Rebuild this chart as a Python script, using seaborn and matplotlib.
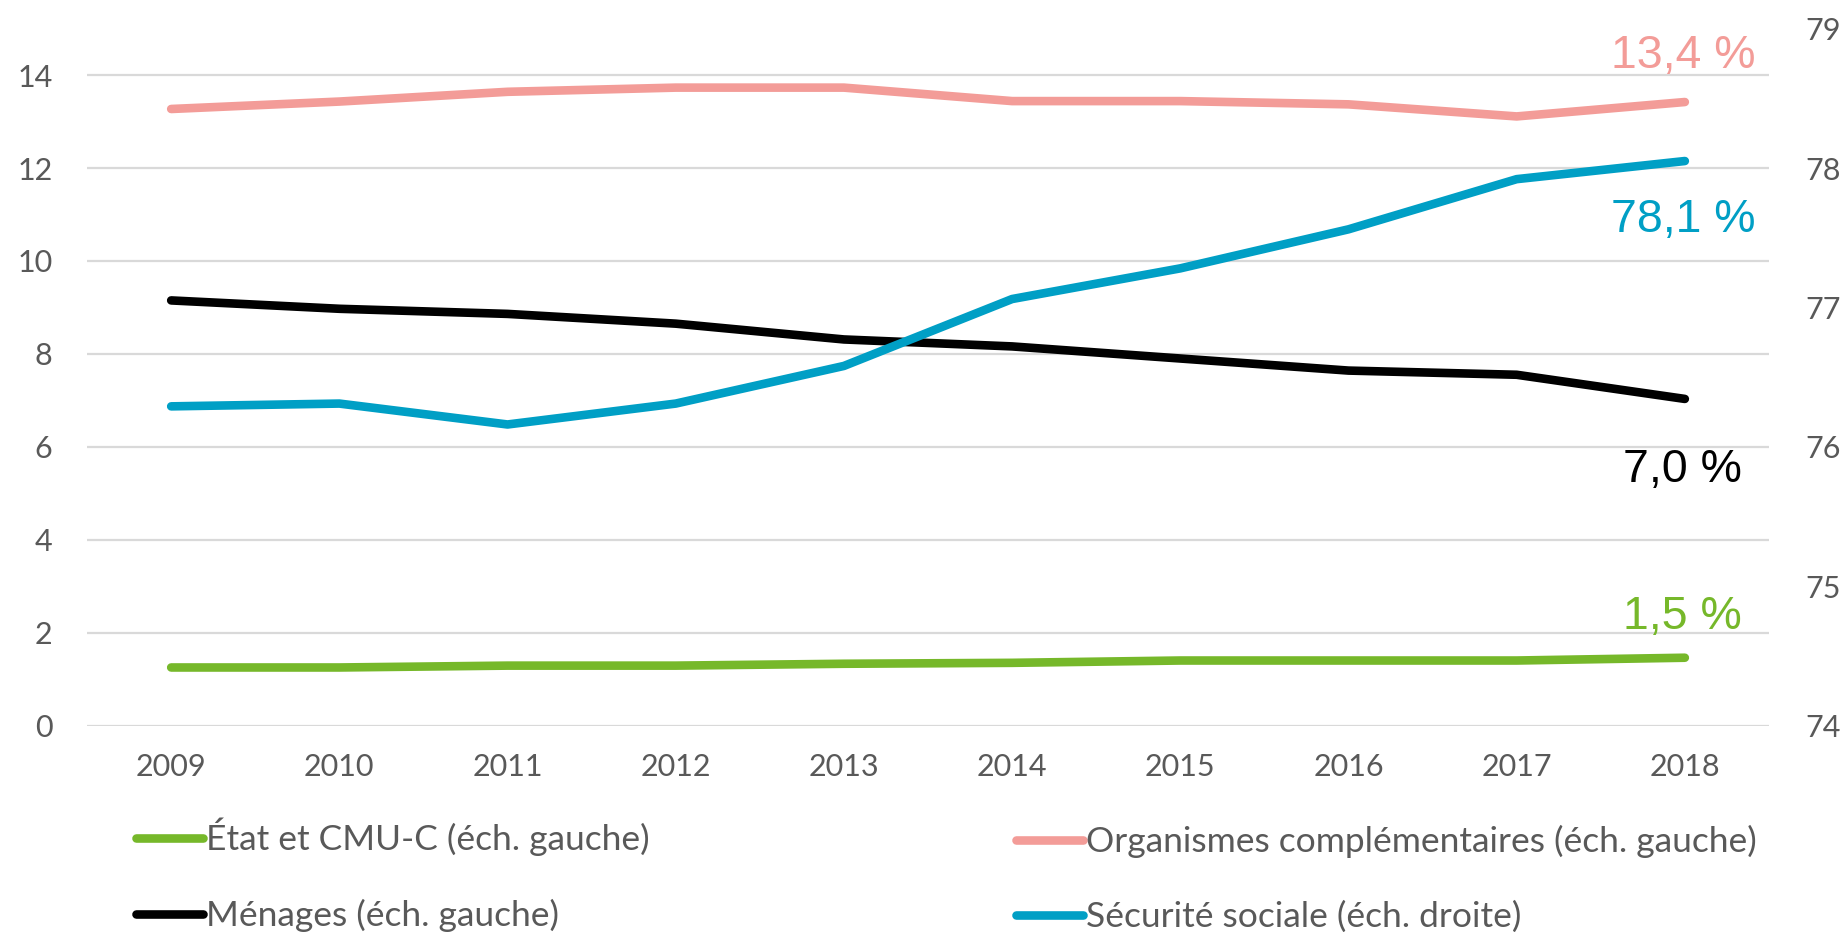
import matplotlib
matplotlib.use("Agg")
import matplotlib.pyplot as plt
import seaborn as sns
import pandas as pd
from matplotlib.lines import Line2D

years = [2009, 2010, 2011, 2012, 2013, 2014, 2015, 2016, 2017, 2018]
etat = [1.25, 1.25, 1.29, 1.29, 1.33, 1.35, 1.40, 1.40, 1.40, 1.46]
organismes = [13.27, 13.43, 13.64, 13.73, 13.73, 13.44, 13.44, 13.37, 13.11, 13.42]
menages = [9.15, 8.97, 8.86, 8.65, 8.31, 8.16, 7.90, 7.64, 7.55, 7.03]
secu = [76.29, 76.31, 76.16, 76.31, 76.58, 77.06, 77.28, 77.56, 77.92, 78.05]

left_ticks = [0, 2, 4, 6, 8, 10, 12, 14]
right_ticks = [74, 75, 76, 77, 78, 79]

labels = ["État et CMU-C (éch. gauche)", "Organismes complémentaires (éch. gauche)",
          "Ménages (éch. gauche)", "Sécurité sociale (éch. droite)"]
end_labels = ["1,5 %", "13,4 %", "7,0 %", "78,1 %"]

c_green = "#76B82A"
c_pink = "#F39C98"
c_black = "#000000"
c_blue = "#009FC5"
grey_txt = "#595959"
grid_c = "#D9D9D9"

sns.set_theme(style="white")
plt.rcParams['font.family'] = ['Lato', 'DejaVu Sans']

fig = plt.figure(figsize=(18.49, 9.32), dpi=100)
ax = fig.add_axes([0.0471, 0.2215, 0.9096, 0.7478])
ax2 = ax.twinx()

df = pd.DataFrame({"annee": years, "etat": etat, "org": organismes,
                   "men": menages, "secu": secu})

lw = 6.2
for col, c in [("etat", c_green), ("org", c_pink), ("men", c_black)]:
    sns.lineplot(data=df, x="annee", y=col, ax=ax, color=c, linewidth=lw,
                 solid_capstyle="round", legend=False)
sns.lineplot(data=df, x="annee", y="secu", ax=ax2, color=c_blue, linewidth=lw,
             solid_capstyle="round", legend=False)

ax.set_xlim(2008.5, 2018.5)
ax.set_ylim(0, 15)
ax2.set_ylim(74, 79)
ax.set_yticks(left_ticks)
ax2.set_yticks(right_ticks)
ax.set_xticks(years)
ax.set_xticklabels([str(y) for y in years])

for a in (ax, ax2):
    for s in a.spines.values():
        s.set_visible(False)
    a.set_xlabel("")
    a.set_ylabel("")
    a.grid(False)

for y in left_ticks:
    ax.axhline(y, color=grid_c, linewidth=1.6, zorder=0)

ax.tick_params(axis="y", length=0, pad=25, labelsize=22, labelcolor=grey_txt)
ax.tick_params(axis="x", length=0, pad=20, labelsize=22, labelcolor=grey_txt)
ax2.tick_params(axis="y", length=0, pad=26, labelsize=22, labelcolor=grey_txt)
ax2.set_zorder(ax.get_zorder() + 1)
ax2.patch.set_visible(False)

ann_font = ['Liberation Sans', 'DejaVu Sans']
fs_ann = 33.5
ax.text(2018.42, 14.42, end_labels[1], color=c_pink, fontsize=fs_ann, ha="right",
        va="center", family=ann_font)
ax.text(2018.42, 10.88, end_labels[3], color=c_blue, fontsize=fs_ann, ha="right",
        va="center", family=ann_font)
ax.text(2018.34, 5.50, end_labels[2], color=c_black, fontsize=fs_ann, ha="right",
        va="center", family=ann_font)
ax.text(2018.34, 2.34, end_labels[0], color=c_green, fontsize=fs_ann, ha="right",
        va="center", family=ann_font)

def handle(c):
    return Line2D([0], [0], color=c, linewidth=lw, solid_capstyle="round")

leg_kw = dict(frameon=False, fontsize=25.5, handlelength=1.9, handletextpad=0.08,
              labelspacing=1.2, borderpad=0, borderaxespad=0, labelcolor=grey_txt,
              loc="upper left")
l1 = fig.legend([handle(c_green), handle(c_black)], [labels[0], labels[2]],
                bbox_to_anchor=(136 / 1849, 1 - 818 / 932), **leg_kw)
l2 = fig.legend([handle(c_pink), handle(c_blue)], [labels[1], labels[3]],
                bbox_to_anchor=(1016 / 1849, 1 - 825 / 932), **leg_kw)

fig.savefig("out.png", dpi=100)
